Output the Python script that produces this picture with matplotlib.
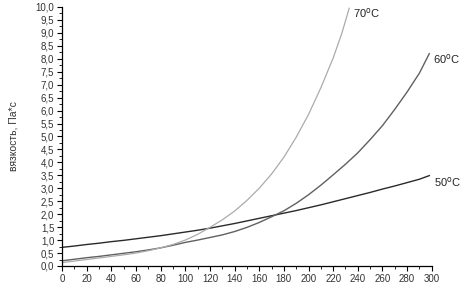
import numpy as np
import matplotlib; matplotlib.use("Agg")
import matplotlib.pyplot as plt
from matplotlib.ticker import MultipleLocator, FuncFormatter

# viscosity vs x, three temperatures (every 10 units)
x50 = [0, 10, 20, 30, 40, 50, 60, 70, 80, 90, 100, 110, 120, 130, 140, 150,
       160, 170, 180, 190, 200, 210, 220, 230, 240, 250, 260, 270, 280, 290, 298]
v50 = [0.72, 0.77, 0.83, 0.88, 0.94, 0.99, 1.05, 1.11, 1.17, 1.24, 1.31, 1.38, 1.46, 1.55, 1.64, 1.74,
       1.84, 1.94, 2.04, 2.14, 2.25, 2.36, 2.48, 2.6, 2.72, 2.84, 2.97, 3.09, 3.22, 3.35, 3.49]
x60 = [0, 10, 20, 30, 40, 50, 60, 70, 80, 90, 100, 110, 120, 130, 140, 150,
       160, 170, 180, 190, 200, 210, 220, 230, 240, 250, 260, 270, 280, 290, 298]
v60 = [0.2, 0.26, 0.32, 0.37, 0.43, 0.49, 0.55, 0.62, 0.7, 0.8, 0.91, 1.0, 1.1, 1.2, 1.33, 1.49,
       1.68, 1.9, 2.13, 2.42, 2.75, 3.12, 3.52, 3.93, 4.37, 4.88, 5.42, 6.05, 6.72, 7.45, 8.2]
x70 = [0, 10, 20, 30, 40, 50, 60, 70, 80, 90, 100, 110, 120, 130, 140, 150,
       160, 170, 180, 190, 200, 210, 220, 227, 233]
v70 = [0.13, 0.19, 0.25, 0.31, 0.37, 0.43, 0.5, 0.59, 0.7, 0.83, 1.0, 1.22, 1.49, 1.78, 2.12, 2.53,
       3.0, 3.55, 4.2, 4.97, 5.85, 6.88, 8.03, 8.98, 9.95]

plt.rcParams.update({"font.family": "Liberation Sans", "font.size": 7})

fig = plt.figure(figsize=(4.75, 2.89), dpi=100)
ax = fig.add_axes([0.1305, 0.0796, 0.7785, 0.8962])

ax.plot(x50, v50, color="#2a2a2a", lw=1.0)
ax.plot(x60, v60, color="#606060", lw=1.0)
ax.plot(x70, v70, color="#ababab", lw=0.9)

ax.text(236, 9.75, "70$^{\\rm o}$C", fontsize=8, va="center", color="#222")
ax.text(301, 8.0, "60$^{\\rm o}$C", fontsize=8, va="center", color="#222")
ax.text(302, 3.25, "50$^{\\rm o}$C", fontsize=8, va="center", color="#222")

ax.set_xlim(0, 300); ax.set_ylim(0, 10)
ax.xaxis.set_major_locator(MultipleLocator(20)); ax.xaxis.set_minor_locator(MultipleLocator(10))
ax.yaxis.set_major_locator(MultipleLocator(0.5)); ax.yaxis.set_minor_locator(MultipleLocator(0.25))
ax.yaxis.set_major_formatter(FuncFormatter(lambda v, p: ("%.1f" % v).replace(".", ",")))
ax.tick_params(which="major", length=3.5, width=0.8, pad=2, labelcolor="#333")
ax.tick_params(which="minor", length=2, width=0.6)
for s in ("top", "right"):
    ax.spines[s].set_visible(False)
for s in ("left", "bottom"):
    ax.spines[s].set_linewidth(0.9)
ax.set_ylabel("вязкость, Па*с", fontsize=7.5, labelpad=12, color="#333")

fig.savefig("out.png", dpi=100)
